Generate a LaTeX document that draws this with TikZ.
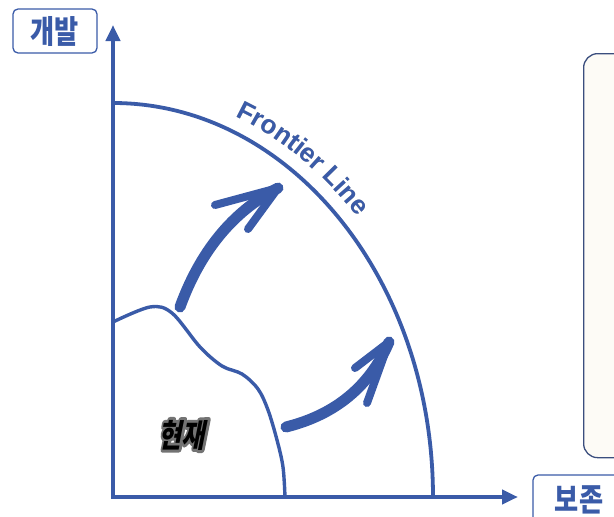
\documentclass[tikz,border=0pt]{standalone}
\usepackage{fontspec}
\usepackage{graphicx}
\setmainfont{Liberation Sans}
\newfontfamily\kr{Noto Sans CJK KR}
\usetikzlibrary{arrows.meta,decorations.text}
\definecolor{primary}{HTML}{3A5BA8}
\definecolor{panelfill}{HTML}{FDFBF6}
\definecolor{panelline}{HTML}{3B4E7E}
\newcommand{\condensed}[1]{\scalebox{0.82}[1]{#1}}
\newcommand{\outlined}[1]{\special{pdf:literal direct 2 Tr 6 w 0.45 0.45 0.45 RG 1 j}#1\special{pdf:literal direct 0 Tr}}

\begin{document}
\begin{tikzpicture}[x=1pt, y=-1pt,
    axis/.style={draw=primary, line width=4pt, line join=miter, {Triangle[length=16pt,width=14pt]}-{Triangle[length=16pt,width=14pt]}},
    curve/.style={draw=primary, line width=3.8pt},
    brush/.style={draw=primary, line width=11pt, line cap=round, line join=round},
    barb/.style={draw=primary, line width=8pt, line cap=round},
    tag/.style={rectangle, rounded corners=5pt, draw=primary, line width=1.3pt, fill=white, text=primary, font=\kr\bfseries\fontsize{32}{32}\selectfont, inner sep=0pt},
    panel/.style={rectangle, rounded corners=14pt, draw=panelline, line width=1.3pt, fill=panelfill, anchor=north west},
    nowtext/.style={xslant=0.2, xscale=0.78, transform shape, font=\kr\bfseries\fontsize{32}{32}\selectfont}
]
    \useasboundingbox (0,0) rectangle (614,517);

    % side panel
    \node[panel, minimum width=70pt, minimum height=404pt] (panel) at (583,53) {};

    % axes
    \coordinate (O) at (113,497);
    \coordinate (ytip) at (113,25);
    \coordinate (xtip) at (518,497);
    \draw[axis] (ytip) -- (O) -- (xtip);

    % axis labels
    \node[tag, minimum width=84pt, minimum height=44pt] (dev) at (55,31) {\condensed{개발}};
    \node[tag, minimum width=92pt, minimum height=50pt] (cons) at (579,500) {\condensed{보존}};

    % frontier line
    \draw[curve] (113,103) arc[start angle=-90, end angle=0, x radius=320, y radius=394];
    \path[shift={(1.8,2)}, decorate, decoration={text along path, text color=gray!70,
        text={|\fontsize{26}{26}\selectfont\bfseries|Frontier Line}}]
        ([shift={(-68.5:335 and 409)}]O) arc[start angle=-68.5, end angle=-10, x radius=335, y radius=409];
    \path[decorate, decoration={text along path, text color=primary,
        text={|\fontsize{26}{26}\selectfont\bfseries|Frontier Line}}]
        ([shift={(-68.5:335 and 409)}]O) arc[start angle=-68.5, end angle=-10, x radius=335, y radius=409];

    % current region
    \draw[curve, line width=3.4pt] plot[smooth, tension=0.55] coordinates {(113,322) (150,307) (172,313) (200,347) (222,366) (242,374) (258,389) (268,410) (277,440) (283,467) (285,497)};
    \node[nowtext, text=gray] (nowglow) at (184,435) {\outlined{현재}};
    \node[nowtext, text=black] (now) at (nowglow) {현재};

    % growth arrows
    \coordinate (tailA) at (180,307);
    \coordinate (tipA) at (278,188);
    \draw[brush] (tailA) .. controls (200,252) and (232,212) .. (tipA);
    \draw[barb] (tipA) -- (215,205);
    \draw[barb] (tipA) -- (248,229);

    \coordinate (tailB) at (286,427);
    \coordinate (tipB) at (389,342);
    \draw[brush] (tailB) .. controls (322,418) and (365,397) .. (tipB);
    \draw[barb] (tipB) -- (355,368);
    \draw[barb] (tipB) -- (367,403);
\end{tikzpicture}
\end{document}
